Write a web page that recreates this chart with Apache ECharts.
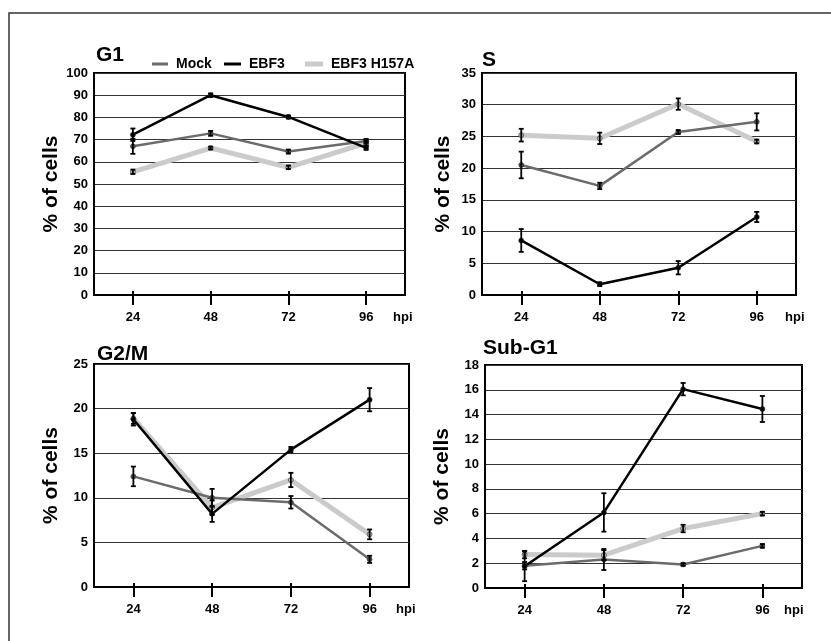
<!DOCTYPE html>
<html>
<head>
<meta charset="utf-8">
<title>cell cycle</title>
<script src="https://cdn.jsdelivr.net/npm/echarts@6/dist/echarts.min.js"></script>
<style>
html,body{margin:0;padding:0;background:#fff;}
#main{width:831px;height:641px;}
</style>
</head>
<body>
<div id="main"></div>
<script>
//数据
var hpi = ['24', '48', '72', '96'];

// G1
var g1Mock = [67, 72.8, 64.6, 69.4];
var g1Ebf3 = [72.2, 90, 80.2, 66.3];
var g1H157A = [55.5, 66.2, 57.5, 68.4];
var g1MockErr = [3.4, 1.1, 0.9, 0.9];
var g1Ebf3Err = [2.8, 0.8, 0.7, 0.9];
var g1H157AErr = [1.0, 0.6, 0.8, 1.0];

// S
var sMock = [20.5, 17.2, 25.7, 27.3];
var sEbf3 = [8.6, 1.7, 4.3, 12.3];
var sH157A = [25.2, 24.7, 30.1, 24.2];
var sMockErr = [2.1, 0.5, 0.3, 1.35];
var sEbf3Err = [1.8, 0.3, 1.05, 0.8];
var sH157AErr = [1.0, 0.9, 0.9, 0.3];

// G2/M
var g2mMock = [12.4, 10.0, 9.5, 3.1];
var g2mEbf3 = [18.8, 8.2, 15.4, 21.0];
var g2mH157A = [18.9, 8.9, 12.0, 5.9];
var g2mMockErr = [1.1, 1.0, 0.7, 0.4];
var g2mEbf3Err = [0.7, 0.9, 0.3, 1.3];
var g2mH157AErr = [0.6, 0.8, 0.8, 0.55];

// Sub-G1
var subMock = [1.8, 2.3, 1.9, 3.4];
var subEbf3 = [1.75, 6.1, 16.05, 14.45];
var subH157A = [2.7, 2.65, 4.8, 6.0];
var subMockErr = [0.3, 0.85, 0.1, 0.15];
var subEbf3Err = [1.2, 1.55, 0.5, 1.05];
var subH157AErr = [0.3, 0.4, 0.3, 0.15];

var panels = [
    {title: 'G1', max: 100, interval: 10, mock: g1Mock, ebf3: g1Ebf3, h157a: g1H157A,
        mockErr: g1MockErr, ebf3Err: g1Ebf3Err, h157aErr: g1H157AErr,
        grid: {left: 94, top: 73, width: 311, height: 222}, titlePos: [96, 45], nameGap: 32, hpiGap: -12},
    {title: 'S', max: 35, interval: 5, mock: sMock, ebf3: sEbf3, h157a: sH157A,
        mockErr: sMockErr, ebf3Err: sEbf3Err, h157aErr: sH157AErr,
        grid: {left: 482, top: 73, width: 314, height: 222}, titlePos: [482, 50], nameGap: 28, hpiGap: -11},
    {title: 'G2/M', max: 25, interval: 5, mock: g2mMock, ebf3: g2mEbf3, h157a: g2mH157A,
        mockErr: g2mMockErr, ebf3Err: g2mEbf3Err, h157aErr: g2mH157AErr,
        grid: {left: 94, top: 364, width: 315, height: 223}, titlePos: [97, 344], nameGap: 32, hpiGap: -13},
    {title: 'Sub-G1', max: 18, interval: 2, mock: subMock, ebf3: subEbf3, h157a: subH157A,
        mockErr: subMockErr, ebf3Err: subEbf3Err, h157aErr: subH157AErr,
        grid: {left: 485, top: 365, width: 317, height: 223}, titlePos: [483, 338], nameGap: 32, hpiGap: -18}
];

var font = 'Liberation Sans, Arial, Helvetica, sans-serif';
var colMock = '#6b6b6b', colEbf3 = '#000', colH157A = '#cbcbcb';

//误差线
function renderErr(params, api) {
    var x = api.value(0);
    var lo = api.coord([x, api.value(1)]);
    var hi = api.coord([x, api.value(2)]);
    var cap = 2.5;
    var style = {stroke: '#000', lineWidth: 1.8, fill: null};
    return {
        type: 'group',
        children: [
            {type: 'line', shape: {x1: lo[0], y1: lo[1], x2: hi[0], y2: hi[1]}, style: style},
            {type: 'line', shape: {x1: lo[0] - cap, y1: lo[1], x2: lo[0] + cap, y2: lo[1]}, style: style},
            {type: 'line', shape: {x1: hi[0] - cap, y1: hi[1], x2: hi[0] + cap, y2: hi[1]}, style: style}
        ]
    };
}

function errData(vals, errs) {
    return vals.map(function (v, i) {
        return [i, Math.max(0, v - errs[i]), v + errs[i]];
    });
}

var grids = [], xAxes = [], yAxes = [], titles = [], series = [];

panels.forEach(function (p, i) {
    grids.push({
        left: p.grid.left, top: p.grid.top, width: p.grid.width, height: p.grid.height,
        show: true, borderColor: '#000', borderWidth: 2
    });
    titles.push({
        text: p.title, left: p.titlePos[0], top: p.titlePos[1], padding: 0,
        textStyle: {fontFamily: font, fontWeight: 'bold', fontSize: 21, color: '#000'}
    });
    xAxes.push({
        type: 'category', gridIndex: i, data: hpi, boundaryGap: true, position: 'bottom',
        axisLine: {show: true, lineStyle: {color: '#000', width: 2}},
        axisTick: {show: true, alignWithLabel: true, length: 10, lineStyle: {color: '#000', width: 2}},
        axisLabel: {margin: 16, color: '#000', fontFamily: font, fontWeight: 'bold', fontSize: 13},
        name: 'hpi', nameLocation: 'end', nameGap: p.hpiGap,
        nameTextStyle: {color: '#000', fontFamily: font, fontWeight: 'bold', fontSize: 13,
            verticalAlign: 'top', align: 'left', padding: [16, 0, 0, 0]}
    });
    //内侧刻度
    xAxes.push({
        type: 'category', gridIndex: i, data: hpi, boundaryGap: true, position: 'bottom',
        axisLine: {show: false},
        axisTick: {show: true, alignWithLabel: true, inside: true, length: 4, lineStyle: {color: '#000', width: 2}},
        axisLabel: {show: false}
    });
    yAxes.push({
        type: 'value', gridIndex: i, min: 0, max: p.max, interval: p.interval,
        axisLine: {show: true, lineStyle: {color: '#000', width: 2}},
        axisTick: {show: false},
        splitLine: {show: true, lineStyle: {color: '#333', width: 1}},
        axisLabel: {margin: 6, color: '#000', fontFamily: font, fontWeight: 'bold', fontSize: 13},
        name: '% of cells', nameLocation: 'middle', nameGap: p.nameGap, nameRotate: 90,
        nameTextStyle: {color: '#000', fontFamily: font, fontWeight: 'bold', fontSize: 21}
    });

    var lines = [
        {name: 'EBF3 H157A', data: p.h157a, err: p.h157aErr, color: colH157A, width: 5, sym: '#b8b8b8'},
        {name: 'Mock', data: p.mock, err: p.mockErr, color: colMock, width: 2.5, sym: '#555'},
        {name: 'EBF3', data: p.ebf3, err: p.ebf3Err, color: colEbf3, width: 2.5, sym: '#000'}
    ];
    lines.forEach(function (l) {
        series.push({
            name: l.name, type: 'line', xAxisIndex: i * 2, yAxisIndex: i,
            data: l.data, symbol: 'circle', symbolSize: 5, showSymbol: true,
            lineStyle: {color: l.color, width: l.width},
            itemStyle: {color: l.sym, borderColor: '#333', borderWidth: 0.6},
            z: 3, animation: false
        });
    });
    lines.forEach(function (l) {
        series.push({
            type: 'custom', xAxisIndex: i * 2, yAxisIndex: i,
            renderItem: renderErr, data: errData(l.data, l.err),
            encode: {x: 0, y: [1, 2]}, clip: true, z: 4, animation: false, silent: true
        });
    });
});

var legendColors = {'Mock': colMock, 'EBF3': colEbf3, 'EBF3 H157A': colH157A};

function legendItem(name, left, w, h) {
    return {
        data: [{name: name, icon: 'rect', itemStyle: {color: legendColors[name], borderWidth: 0}}],
        left: left, top: 52, itemWidth: w, itemHeight: h,
        selectedMode: false,
        itemStyle: {borderWidth: 0},
        lineStyle: {width: 0},
        textStyle: {color: '#000', fontFamily: font, fontWeight: 'bold', fontSize: 14, padding: [0, 0, 0, 3]}
    };
}

var option = {
    backgroundColor: '#fff',
    animation: false,
    title: titles,
    legend: [
        legendItem('Mock', 147, 16, 3),
        legendItem('EBF3', 219, 17, 3),
        legendItem('EBF3 H157A', 300, 18, 5)
    ],
    grid: grids,
    xAxis: xAxes,
    yAxis: yAxes,
    series: series,
    graphic: [{
        type: 'rect', silent: true,
        shape: {x: 9, y: 13, width: 900, height: 700},
        style: {fill: null, stroke: '#333', lineWidth: 1.5}
    }]
};

var myChart = echarts.init(document.getElementById('main'));
myChart.setOption(option);
</script>
</body>
</html>
